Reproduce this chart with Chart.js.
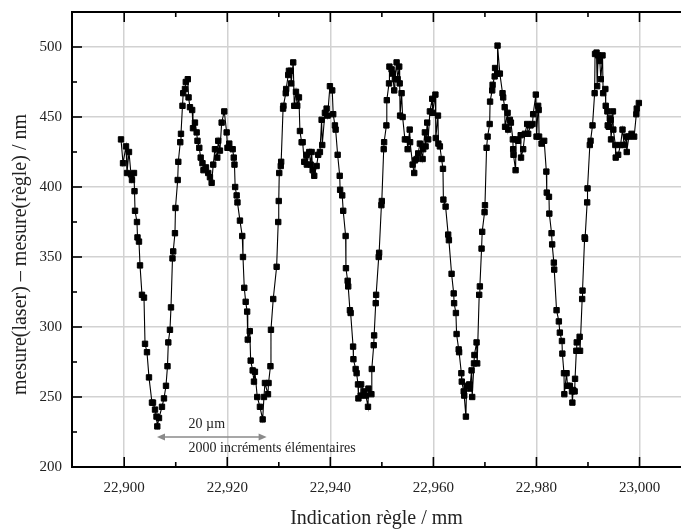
<!DOCTYPE html>
<html>
<head>
<meta charset="utf-8">
<script src="https://cdn.jsdelivr.net/npm/chart.js@4/dist/chart.umd.min.js"></script>
<style>
  html, body { margin: 0; padding: 0; background: #fff; }
  #wrap { width: 681px; height: 532px; }
</style>
</head>
<body>
<div id="wrap"><canvas id="regleChart"></canvas></div>
<script>
// Indication règle (mm)
const position = [
  22.89938, 22.89977, 22.90035, 22.90054, 22.90093, 22.90132, 22.90151, 22.90190, 22.90200, 22.90210,
  22.90248, 22.90258, 22.90287, 22.90307, 22.90345, 22.90384, 22.90404, 22.90442, 22.90481, 22.90539,
  22.90559, 22.90598, 22.90627, 22.90642, 22.90675, 22.90733, 22.90772, 22.90811, 22.90840, 22.90856,
  22.90888, 22.90908, 22.90937, 22.90951, 22.90985, 22.90995, 22.91038, 22.91050, 22.91088, 22.91102,
  22.91131, 22.91145, 22.91179, 22.91195, 22.91234, 22.91249, 22.91276, 22.91319, 22.91335, 22.91373,
  22.91406, 22.91422, 22.91457, 22.91484, 22.91519, 22.91538, 22.91587, 22.91631, 22.91664, 22.91697,
  22.91728, 22.91761, 22.91806, 22.91825, 22.91858, 22.91891, 22.91942, 22.91988, 22.92004, 22.92039,
  22.92105, 22.92126, 22.92140, 22.92153, 22.92182, 22.92198, 22.92246, 22.92291, 22.92305, 22.92330,
  22.92357, 22.92386, 22.92398, 22.92437, 22.92454, 22.92493, 22.92518, 22.92537, 22.92582, 22.92634,
  22.92687, 22.92712, 22.92731, 22.92790, 22.92801, 22.92838, 22.92848, 22.92892, 22.92958, 22.92989,
  22.92999, 22.93009, 22.93038, 22.93046, 22.93083, 22.93090, 22.93135, 22.93143, 22.93183, 22.93197,
  22.93232, 22.93240, 22.93280, 22.93300, 22.93333, 22.93358, 22.93391, 22.93410, 22.93443, 22.93463,
  22.93494, 22.93536, 22.93544, 22.93591, 22.93618, 22.93637, 22.93657, 22.93688, 22.93734, 22.93765,
  22.93798, 22.93831, 22.93843, 22.93895, 22.93928, 22.93948, 22.93992, 22.94037, 22.94056, 22.94089,
  22.94103, 22.94142, 22.94182, 22.94190, 22.94231, 22.94250, 22.94297, 22.94303, 22.94336, 22.94347,
  22.94380, 22.94394, 22.94442, 22.94448, 22.94491, 22.94510, 22.94537, 22.94545, 22.94590, 22.94598,
  22.94652, 22.94691, 22.94731, 22.94739, 22.94797, 22.94805, 22.94842, 22.94850, 22.94881, 22.94889,
  22.94939, 22.94947, 22.94991, 22.94999, 22.95036, 22.95044, 22.95088, 22.95096, 22.95139, 22.95147,
  22.95189, 22.95209, 22.95240, 22.95253, 22.95286, 22.95306, 22.95337, 22.95346, 22.95354, 22.95383,
  22.95403, 22.95447, 22.95492, 22.95500, 22.95540, 22.95548, 22.95597, 22.95628, 22.95641, 22.95674,
  22.95705, 22.95738, 22.95791, 22.95802, 22.95835, 22.95849, 22.95880, 22.95899, 22.95932, 22.95977,
  22.95985, 22.96039, 22.96047, 22.96089, 22.96097, 22.96126, 22.96159, 22.96186, 22.96194, 22.96237,
  22.96287, 22.96301, 22.96353, 22.96394, 22.96402, 22.96437, 22.96450, 22.96491, 22.96499, 22.96543,
  22.96551, 22.96588, 22.96598, 22.96631, 22.96644, 22.96695, 22.96708, 22.96741, 22.96753, 22.96788,
  22.96796, 22.96838, 22.96850, 22.96889, 22.96902, 22.96935, 22.96947, 22.96993, 22.97001, 22.97032,
  22.97052, 22.97092, 22.97100, 22.97141, 22.97149, 22.97189, 22.97197, 22.97238, 22.97245, 22.97290,
  22.97342, 22.97354, 22.97383, 22.97391, 22.97440, 22.97451, 22.97484, 22.97504, 22.97542, 22.97548,
  22.97554, 22.97595, 22.97604, 22.97645, 22.97694, 22.97701, 22.97742, 22.97775, 22.97820, 22.97839,
  22.97886, 22.97924, 22.97936, 22.97988, 22.98002, 22.98033, 22.98043, 22.98051, 22.98099, 22.98150,
  22.98192, 22.98200, 22.98243, 22.98250, 22.98293, 22.98305, 22.98338, 22.98345, 22.98390, 22.98435,
  22.98454, 22.98495, 22.98503, 22.98534, 22.98541, 22.98584, 22.98603, 22.98648, 22.98689, 22.98697,
  22.98712, 22.98741, 22.98749, 22.98774, 22.98782, 22.98838, 22.98846, 22.98887, 22.98894, 22.98935,
  22.98943, 22.98984, 22.98991, 22.99036, 22.99050, 22.99088, 22.99129, 22.99137, 22.99166, 22.99178,
  22.99197, 22.99230, 22.99249, 22.99282, 22.99294, 22.99337, 22.99344, 22.99376, 22.99383, 22.99405,
  22.99424, 22.99440, 22.99447, 22.99484, 22.99492, 22.99531, 22.99538, 22.99585, 22.99632, 22.99670,
  22.99701, 22.99744, 22.99752, 22.99793, 22.99845, 22.99896, 22.99938, 22.99946, 22.99987
];

// mesure(laser) - mesure(règle) (nm)
const deviation = [
  434, 417, 429, 410, 425, 409, 405, 410, 397, 383,
  375, 364, 361, 344, 323, 321, 288, 282, 264, 246,
  246, 241, 236, 229, 235, 243, 249, 258, 272, 289,
  298, 314, 349, 354, 367, 385, 405, 418, 432, 438,
  458, 467, 470, 475, 477, 464, 457, 455, 442, 446,
  439, 433, 428, 421, 417, 412, 414, 410, 407, 403,
  416, 427, 421, 433, 426, 446, 454, 439, 428, 431,
  427, 421, 416, 400, 394, 389, 376, 365, 350, 328,
  318, 311, 291, 297, 276, 269, 261, 268, 250, 243,
  234, 250, 260, 252, 260, 272, 298, 320, 343, 375,
  390, 410, 415, 418, 456, 458, 467, 470, 480, 483,
  483, 474, 489, 458, 468, 458, 464, 440, 432, 432,
  418, 423, 416, 425, 416, 425, 412, 408, 415, 423,
  425, 448, 430, 453, 456, 451, 472, 469, 452, 444,
  441, 423, 408, 398, 394, 383, 365, 342, 333, 329,
  312, 310, 286, 277, 270, 267, 259, 249, 251, 259,
  254, 251, 243, 256, 252, 270, 287, 294, 317, 323,
  350, 353, 387, 390, 427, 432, 444, 462, 474, 486,
  484, 481, 469, 477, 489, 477, 486, 474, 451, 467,
  450, 434, 434, 427, 441, 432, 416, 410, 419, 420,
  424, 431, 420, 427, 439, 429, 446, 434, 454, 463,
  453, 466, 435, 451, 431, 429, 420, 413, 391, 386,
  366, 362, 338, 324, 317, 310, 295, 284, 282, 267,
  261, 254, 251, 236, 258, 259, 256, 269, 250, 274,
  280, 289, 274, 323, 329, 356, 368, 382, 387, 428,
  436, 445, 461, 469, 473, 479, 485, 481, 501, 481,
  467, 464, 457, 443, 453, 441, 448, 446, 434, 427,
  423, 412, 434, 433, 437, 421, 427, 438, 445, 438,
  444, 445, 452, 466, 436, 458, 455, 436, 431, 433,
  411, 396, 393, 381, 367, 359, 346, 341, 312, 304,
  296, 290, 281, 267, 252, 267, 258, 258, 254, 246,
  255, 254, 263, 283, 289, 293, 283, 320, 326, 364,
  363, 389, 399, 430, 433, 444, 467, 495, 496, 472,
  494, 490, 477, 494, 467, 470, 458, 454, 444, 443,
  449, 448, 434, 454, 441, 430, 421, 423, 430, 441,
  430, 436, 425, 436, 438, 436, 452, 456, 460
];

// graduations
const xTicks = [22.9, 22.92, 22.94, 22.96, 22.98, 23.0];
const xTickLabels = ["22,900", "22,920", "22,940", "22,960", "22,980", "23,000"];
const xMinor = [22.91, 22.93, 22.95, 22.97, 22.99];
const yTicks = [200, 250, 300, 350, 400, 450, 500];
const yMinor = [225, 275, 325, 375, 425, 475];

// flèche "20 µm"
const spanFrom = 22.90636;
const spanTo = 22.92764;
const spanLevel = 221.4;

const serif = '"Liberation Serif", "DejaVu Serif", serif';

// cadre du haut, graduations vers l'intérieur, flèche + textes
const cadre = {
  id: "cadre",
  afterDatasetsDraw(chart) {
    const { ctx, chartArea: a, scales: { x, y } } = chart;
    const seg = (x1, y1, x2, y2) => {
      ctx.beginPath();
      ctx.moveTo(x1, y1);
      ctx.lineTo(x2, y2);
      ctx.stroke();
    };
    ctx.save();
    ctx.strokeStyle = "#000";
    ctx.lineWidth = 2;
    seg(a.left - 1, a.top, a.right, a.top);

    ctx.lineWidth = 1.6;
    xTicks.forEach(v => {
      const p = x.getPixelForValue(v);
      seg(p, a.bottom, p, a.bottom - 10);
      seg(p, a.top, p, a.top + 10);
    });
    xMinor.forEach(v => {
      const p = x.getPixelForValue(v);
      seg(p, a.bottom, p, a.bottom - 5);
      seg(p, a.top, p, a.top + 5);
    });
    yTicks.forEach(v => {
      const p = y.getPixelForValue(v);
      seg(a.left, p, a.left + 10, p);
    });
    yMinor.forEach(v => {
      const p = y.getPixelForValue(v);
      seg(a.left, p, a.left + 5, p);
    });

    // flèche double
    const x1 = x.getPixelForValue(spanFrom);
    const x2 = x.getPixelForValue(spanTo);
    const py = y.getPixelForValue(spanLevel);
    ctx.strokeStyle = "#8a8a8a";
    ctx.fillStyle = "#8a8a8a";
    ctx.lineWidth = 1.5;
    seg(x1 + 4, py, x2 - 4, py);
    ctx.beginPath();
    ctx.moveTo(x1, py); ctx.lineTo(x1 + 8, py - 3.5); ctx.lineTo(x1 + 8, py + 3.5);
    ctx.closePath(); ctx.fill();
    ctx.beginPath();
    ctx.moveTo(x2, py); ctx.lineTo(x2 - 8, py - 3.5); ctx.lineTo(x2 - 8, py + 3.5);
    ctx.closePath(); ctx.fill();

    ctx.fillStyle = "#222";
    ctx.font = "14px " + serif;
    ctx.textAlign = "left";
    ctx.textBaseline = "middle";
    const tx = x.getPixelForValue(22.9125);
    ctx.fillText("20 µm", tx, y.getPixelForValue(230.5));
    ctx.fillText("2000 incréments élémentaires", tx, y.getPixelForValue(213));
    ctx.restore();
  }
};

const points = position.map((p, i) => ({ x: p, y: deviation[i] }));

new Chart(document.getElementById("regleChart"), {
  type: "line",
  data: {
    datasets: [
      {
        data: points,
        borderColor: "#000",
        borderWidth: 1.1,
        pointStyle: "rect",
        pointRadius: 3.8,
        pointBorderWidth: 1,
        pointBackgroundColor: "#000",
        pointBorderColor: "#000",
        tension: 0,
      },
    ],
  },
  options: {
    responsive: true,
    maintainAspectRatio: false,
    animation: false,
    layout: { autoPadding: false, padding: { top: 12, right: 0, left: 0, bottom: 0 } },
    plugins: {
      legend: { display: false },
      tooltip: { enabled: false },
    },
    scales: {
      x: {
        type: "linear",
        min: 22.88987,
        max: 23.00805,
        afterBuildTicks: s => { s.ticks = xTicks.map(v => ({ value: v })); },
        afterFit: s => {
          s.height = 65;
          s.paddingLeft = 0;
          s.paddingRight = 0;
        },
        ticks: {
          color: "#222",
          font: { family: serif, size: 15 },
          padding: 12,
          maxRotation: 0,
          callback: (v, i) => xTickLabels[i],
        },
        grid: { color: "#d2d2d2", lineWidth: 1.5, drawTicks: false },
        border: { display: true, color: "#000", width: 2 },
        title: {
          display: true,
          text: "Indication règle / mm",
          color: "#222",
          font: { family: serif, size: 20 },
          padding: { top: 0, bottom: 1 },
        },
      },
      y: {
        min: 200,
        max: 525,
        afterBuildTicks: s => { s.ticks = yTicks.map(v => ({ value: v })); },
        afterFit: s => {
          s.width = 72;
          s.paddingTop = 0;
          s.paddingBottom = 0;
        },
        ticks: {
          color: "#222",
          font: { family: serif, size: 15 },
          padding: 10,
        },
        grid: { color: "#d2d2d2", lineWidth: 1.5, drawTicks: false },
        border: { display: true, color: "#000", width: 2 },
        title: {
          display: true,
          // espaces de fin : le titre est un peu plus bas que le centre dans l'original
          text: "mesure(laser) – mesure(règle) / nm\u2002\u2002\u2002",
          color: "#222",
          font: { family: serif, size: 20 },
          padding: { top: 9, bottom: 0 },
        },
      },
    },
  },
  plugins: [cadre],
});
</script>
</body>
</html>
